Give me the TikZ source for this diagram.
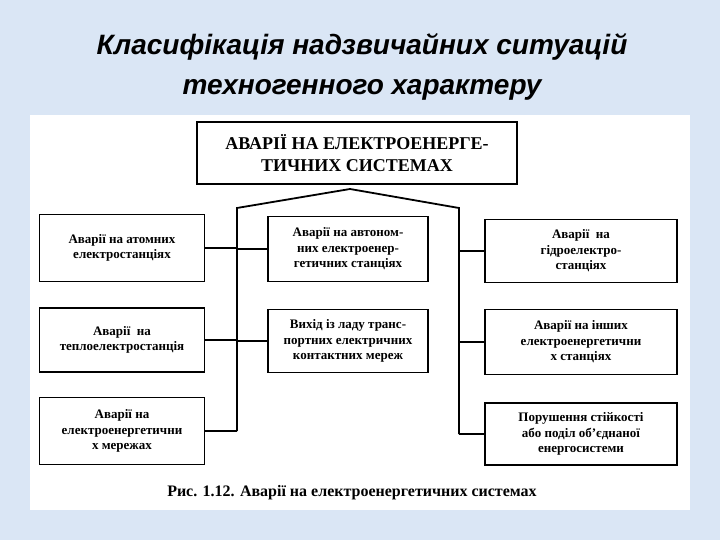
\documentclass[tikz,border=0pt]{standalone}
\usepackage{fontspec}
\setmainfont{Liberation Serif}
\newfontfamily\titlefont{Liberation Sans}
\definecolor{bg}{RGB}{218,230,245}
\begin{document}
\begin{tikzpicture}[x=1pt,y=-1pt,
  bx/.style={draw,line width=1.8pt,fill=white,align=center,font=\bfseries\fontsize{13}{15.5}\selectfont,inner sep=1pt},
  ln/.style={line width=1.8pt}]
\fill[bg] (0,0) rectangle (720,540);
\useasboundingbox (0,0) rectangle (720,540);
\fill[white] (30,115) rectangle (690,510);
\node[font=\titlefont\bfseries\itshape\fontsize{28}{40}\selectfont,align=center] (title) at (362,67) {Класифікація надзвичайних ситуацій\\техногенного характеру};
\node[bx,minimum width=320pt,minimum height=62pt,font=\bfseries\fontsize{18}{22}\selectfont] (top) at (357,153) {АВАРІЇ НА ЕЛЕКТРОЕНЕРГЕ-\\ТИЧНИХ СИСТЕМАХ};
\node[bx,minimum width=165pt,minimum height=67pt] (l1) at (122,248) {Аварії на атомних\\електростанціях};
\node[bx,minimum width=165pt,minimum height=64pt] (l2) at (122,340) {Аварії\ \ на\\теплоелектростанція};
\node[bx,minimum width=165pt,minimum height=67pt] (l3) at (122,431) {Аварії на\\електроенергетични\\х мережах};
\node[bx,minimum width=160pt,minimum height=65pt] (m1) at (348,249) {Аварії на автоном-\\них електроенер-\\гетичних станціях};
\node[bx,minimum width=160pt,minimum height=63pt] (m2) at (348,341) {Вихід із ладу транс-\\портних електричних\\контактних мереж};
\node[bx,minimum width=192pt,minimum height=63pt] (r1) at (581,251) {Аварії\ \ на\\гідроелектро-\\станціях};
\node[bx,minimum width=192pt,minimum height=65pt] (r2) at (581,342) {Аварії на інших\\електроенергетични\\х станціях};
\node[bx,minimum width=192pt,minimum height=62pt] (r3) at (581,434) {Порушення стійкості\\або поділ об'єднаної\\енергосистеми};
\coordinate (peak) at (350,189);
\coordinate (lt) at (237,208);
\coordinate (rt) at (459,208);
\coordinate (lb) at (l3.east -| lt);
\coordinate (rb) at (r3.west -| rt);
\draw[ln] (lb) -- (lt) -- (peak) -- (rt) -- (rb);
\draw[ln] (l1.east) -- (l1.east -| lt);
\draw[ln] (m1.west -| lt) -- (m1.west);
\draw[ln] (l2.east) -- (l2.east -| lt);
\draw[ln] (m2.west -| lt) -- (m2.west);
\draw[ln] (l3.east) -- (lb);
\draw[ln] (r1.west) -- (r1.west -| rt);
\draw[ln] (r2.west) -- (r2.west -| rt);
\draw[ln] (rb) -- (r3.west);
\node[font=\bfseries\fontsize{16}{18}\selectfont] (cap) at (352,493) {Рис. 1.12. Аварії на електроенергетичних системах};
\end{tikzpicture}
\end{document}
